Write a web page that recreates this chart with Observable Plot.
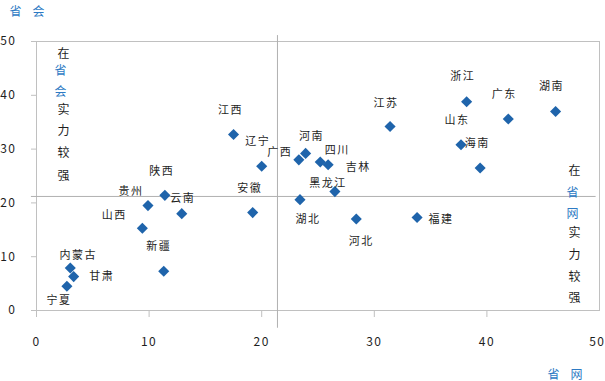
<!DOCTYPE html>
<html><head><meta charset="utf-8">
<script src="https://cdn.jsdelivr.net/npm/d3@7"></script>
<script src="https://cdn.jsdelivr.net/npm/@observablehq/plot@0.6"></script>
<style>
html,body{margin:0;padding:0;background:#fff;}
#chart svg{font-family:"Noto Sans CJK SC","Noto Sans",sans-serif;}
#chart svg text{letter-spacing:1.5px;}
</style>
</head><body><div id="chart"></div>
<script>
// Data
const provinces = ["宁夏","内蒙古","甘肃","新疆","山西","贵州","陕西","云南","江西","辽宁","安徽","广西","河南","四川","吉林","黑龙江","湖北","河北","江苏","福建","浙江","山东","海南","广东","湖南"];
const netScores = [2.7,3.0,3.3,11.3,9.4,9.9,11.4,12.9,17.5,20.0,19.2,23.3,23.9,25.2,25.9,26.5,23.4,28.4,31.4,33.8,38.2,37.7,39.4,41.9,46.1];
const capitalScores = [4.5,7.9,6.3,7.3,15.3,19.5,21.4,18.0,32.7,26.8,18.2,28.0,29.2,27.6,27.1,22.1,20.6,17.0,34.2,17.3,38.8,30.8,26.5,35.6,37.0];
const xTicks = [0,10,20,30,40,50];
const yTicks = [0,10,20,30,40,50];
const xMean = 21.4;
const yMean = 21.2;
const xAxisTitle = ["省","网"];
const yAxisTitle = ["省","会"];
const leftNote = ["在","省","会","实","力","较","强"];
const rightNote = ["在","省","网","实","力","较","强"];

// Layout (pixel offsets for labels, not data)
const labelOffsets = {
  "宁夏":[-8,14],"内蒙古":[8,-13],"甘肃":[28,0],"新疆":[-5,-25],"山西":[-28,-13],
  "贵州":[-17,-14],"陕西":[-3,-24],"云南":[1,-15],"江西":[-3,-24],"辽宁":[-4,-25],
  "安徽":[-3,-24],"广西":[-19,-7],"河南":[6,-17],"四川":[17,-12],"吉林":[30,3],
  "黑龙江":[-7,-8],"湖北":[8,20],"河北":[5,22],"江苏":[-4,-23],"福建":[24,2],
  "浙江":[-4,-25],"山东":[-4,-24],"海南":[-3,-24],"广东":[-4,-25],"湖南":[-4,-25]
};
const leftNotePos = [[21,8],[18,25],[18,46],[21,64],[21,85],[21,107],[21,130]];
const rightNotePos = [[532,125],[530,147],[530,168],[532,187],[532,209],[532,231],[532,252]];
const blue = "#2e7bc4";
const ink = "#1e1e1e";
const isBlue = c => c === "省" || c === "会" || c === "网";

const rows = provinces.map((name, i) => ({name, net: netScores[i], cap: capitalScores[i]}));
const xTicksInner = xTicks.slice(0, -1);
const xTicksLast = xTicks.slice(-1);

const marks = [
  Plot.frame({stroke: "#c0c0c0"}),
  Plot.axisX({ticks: xTicksInner, tickSize: 7, tickPadding: 20, fontSize: 12, stroke: "#c0c0c0", fill: ink, label: null, tickFormat: d => String(d)}),
  Plot.axisX({ticks: xTicksLast, tickSize: 7, tickPadding: 20, fontSize: 12, stroke: "#c0c0c0", fill: ink, label: null, tickFormat: d => String(d), textAnchor: "end", dx: 6}),
  Plot.axisY({ticks: yTicks, tickSize: 5, tickPadding: 15, fontSize: 12, stroke: "#c0c0c0", fill: ink, label: null, tickFormat: d => String(d)}),
  Plot.ruleX([xMean], {y1: -3.3, y2: 51.1, stroke: "#b0b0b0"}),
  Plot.ruleY([yMean], {x1: -0.45, x2: 49.7, stroke: "#b0b0b0"}),
  Plot.dot(rows, {x: "net", y: "cap", symbol: "diamond2", r: 5, fill: "#1f64ab", stroke: "none"})
];
rows.forEach(r => {
  const [dx, dy] = labelOffsets[r.name];
  marks.push(Plot.text([r], {x: "net", y: "cap", text: "name", dx, dy, fontSize: 11, fill: ink}));
});
leftNote.forEach((c, i) => {
  marks.push(Plot.text([c], {frameAnchor: "top-left", text: d => d, dx: leftNotePos[i][0], dy: leftNotePos[i][1], fontSize: 12, fill: isBlue(c) ? blue : ink}));
});
rightNote.forEach((c, i) => {
  marks.push(Plot.text([c], {frameAnchor: "top-left", text: d => d, dx: rightNotePos[i][0], dy: rightNotePos[i][1], fontSize: 12, fill: isBlue(c) ? blue : ink}));
});
yAxisTitle.forEach((c, i) => {
  marks.push(Plot.text([c], {frameAnchor: "top-left", text: d => d, dx: -27 + i * 23, dy: -34, fontSize: 12, fill: blue}));
});
xAxisTitle.forEach((c, i) => {
  marks.push(Plot.text([c], {frameAnchor: "top-left", text: d => d, dx: 511 + i * 23, dy: 329, fontSize: 12, fill: blue}));
});

const chart = Plot.plot({
  width: 605,
  height: 381,
  marginLeft: 36,
  marginRight: 6,
  marginTop: 41,
  marginBottom: 71,
  style: {background: "#fff", overflow: "visible"},
  x: {domain: [0, 50], label: null},
  y: {domain: [0, 50], label: null},
  marks
});
document.getElementById("chart").appendChild(chart);
</script>
</body></html>
